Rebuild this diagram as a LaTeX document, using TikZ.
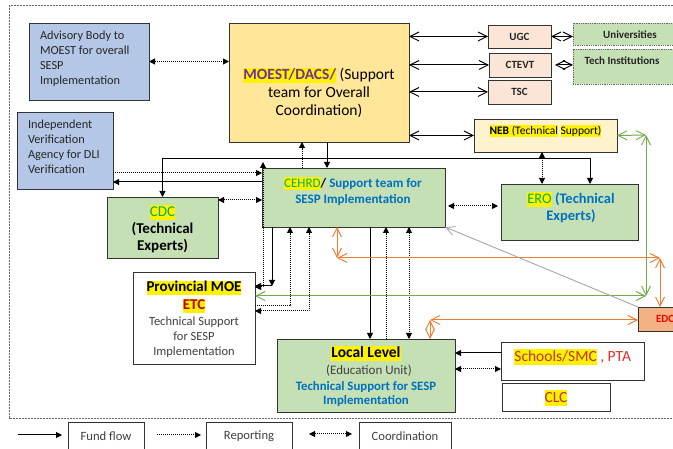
\documentclass[tikz,border=0pt]{standalone}
\usepackage{fontspec}
\setmainfont{Carlito}
\usetikzlibrary{arrows.meta}
\definecolor{advblue}{HTML}{B4C7E7}
\definecolor{moestY}{HTML}{FFE699}
\definecolor{peach}{HTML}{FBE5D6}
\definecolor{lgreen}{HTML}{C5E0B4}
\definecolor{nebY}{HTML}{FFF2CC}
\definecolor{edoO}{HTML}{F4B183}
\definecolor{purp}{HTML}{7030A0}
\definecolor{txtgreen}{HTML}{00B050}
\definecolor{txtblue}{HTML}{0070C0}
\definecolor{darkred}{HTML}{C00000}
\definecolor{schred}{HTML}{C8302A}
\definecolor{ptared}{HTML}{E0302A}
\definecolor{grn}{HTML}{70AD47}
\definecolor{org}{HTML}{ED7D31}
\definecolor{gry}{HTML}{A6A6A6}
\definecolor{txtgray}{HTML}{404040}
\newcommand\hl[1]{{\setlength{\fboxsep}{0pt}\colorbox{yellow}{\rule[-0.22em]{0pt}{0.98em}#1}}}
\tikzset{
  tipB/.tip={Triangle[length=6pt,width=6pt]},
  tipO/.tip={Straight Barb[length=9pt,width=9pt,line width=0.9pt]},
  box/.style={draw=black!80, line width=0.9pt, inner sep=0pt, outer sep=0pt},
  txt/.style={inner sep=0pt, outer sep=0pt},
  fund/.style={draw=black, line width=1pt, -tipB},
  rep/.style={draw=black, line width=1pt, dash pattern=on 1pt off 1pt, -tipB},
  crd/.style={draw=black, line width=1pt, dash pattern=on 1pt off 1pt, tipB-tipB},
  blk/.style={draw=black, line width=1pt, tipO-tipO},
  grnarr/.style={draw=grn, line width=1pt, tipO-tipO},
  orgarr/.style={draw=org, line width=1pt, tipO-tipO},
  gryarr/.style={draw=gry, line width=0.9pt, -tipO},
  frame/.style={draw=black!60, line width=0.6pt, dash pattern=on 0.6pt off 0.9pt},
}
\begin{document}
\begin{tikzpicture}[x=1pt,y=-1pt]
\useasboundingbox (0,0) rectangle (673,449);
\fill[white] (0,0) rectangle (673,449);
\clip (0,0) rectangle (673,449);
\draw[frame] (9,5) rectangle (720,418);

% ---------- boxes ----------
\node[box, fill=advblue, minimum width=120, minimum height=77] (adv) at (89,61.5) {};
\node[txt, anchor=west, align=left, text=black!85, font=\fontsize{12.3}{15}\selectfont] (advT) at (40,58.5) {Advisory Body to\\MOEST for overall\\SESP\\Implementation};

\node[box, fill=advblue, minimum width=96, minimum height=77] (iva) at (65,150.5) {};
\node[txt, anchor=west, align=left, text=black!85, font=\fontsize{12.3}{15}\selectfont] (ivaT) at (28,147) {Independent\\Verification\\Agency for DLI\\Verification};

\node[box, fill=moestY, minimum width=180, minimum height=119] (moest) at (319,82.5) {};
\node[txt, align=center, font=\fontsize{15.5}{18}\selectfont] (moestT) at (319,93) {{\bfseries\color{purp}\hl{MOEST/DACS/}} (Support\\team for Overall\\Coordination)};

\node[box, fill=peach, minimum width=63, minimum height=23, font=\fontsize{11}{13}\selectfont\bfseries, text=black!85] (ugc) at (519.5,36.5) {UGC};
\node[box, fill=peach, minimum width=62, minimum height=24, font=\fontsize{11}{13}\selectfont\bfseries, text=black!85] (ctevt) at (520,65) {CTEVT};
\node[box, fill=peach, minimum width=63, minimum height=24, font=\fontsize{11}{13}\selectfont\bfseries, text=black!85] (tsc) at (519.5,92) {TSC};

\node[box, draw=black!60, dash pattern=on 1pt off 0.8pt, fill=lgreen, minimum width=115, minimum height=22] (univ) at (630.5,34) {};
\node[txt, font=\fontsize{11}{13}\selectfont\bfseries, text=black!85] (univT) at (630,35) {Universities};
\node[box, draw=black!60, dash pattern=on 1pt off 0.8pt, fill=lgreen, minimum width=115, minimum height=35] (tech) at (630.5,66.5) {};
\node[txt, font=\fontsize{11}{13}\selectfont\bfseries, text=black!85] (techT) at (622,61) {Tech Institutions};

\node[box, fill=nebY, minimum width=143, minimum height=33] (neb) at (545.5,135.5) {};
\node[txt, font=\fontsize{11.5}{13}\selectfont] (nebT) at (545.5,131) {\hl{\textbf{NEB} (Technical} \hl{Support)}};

\node[box, fill=lgreen, minimum width=137, minimum height=56] (ero) at (569.5,212) {};
\node[txt, align=center, font=\fontsize{14.5}{17}\selectfont] (eroT) at (571,207.5) {\hl{\color{txtgreen}ERO} {\color{txtblue}\bfseries (Technical}\\{\color{txtblue}\bfseries Experts)}};

\node[box, fill=lgreen, minimum width=183, minimum height=59] (cehrd) at (353.5,197.5) {};
\node[txt, align=center, font=\fontsize{13}{16.5}\selectfont] (cehrdT) at (353,191.5) {\hl{\color{txtgreen}CEHRD}\textbf{/} {\color{txtblue}\bfseries Support team for}\\{\color{txtblue}\bfseries SESP Implementation}};

\node[box, fill=lgreen, minimum width=111, minimum height=61] (cdc) at (162.5,227.5) {};
\node[txt, align=center, font=\fontsize{15}{17}\selectfont] (cdcT) at (162.5,229) {\hl{\color{txtgreen}CDC}\\\textbf{(Technical}\\\textbf{Experts)}};

\node[box, fill=white, minimum width=122, minimum height=92] (prov) at (194,318) {};
\node[txt, anchor=base, font=\fontsize{15}{18}\selectfont\bfseries] (provA) at (194,292) {\hl{Provincial MOE}};
\node[txt, anchor=base, font=\fontsize{15}{18}\selectfont\bfseries, text=darkred] (provB) at (194,310) {\hl{ETC}};
\node[txt, anchor=base, font=\fontsize{12.5}{15}\selectfont, text=txtgray] (provC) at (194,326) {Technical Support};
\node[txt, anchor=base, font=\fontsize{12.5}{15}\selectfont, text=txtgray] (provD) at (194,341) {for SESP};
\node[txt, anchor=base, font=\fontsize{12.5}{15}\selectfont, text=txtgray] (provE) at (194,356) {Implementation};

\node[box, fill=lgreen, minimum width=178, minimum height=73] (local) at (366,375.5) {};
\node[txt, anchor=base, font=\fontsize{15.5}{18}\selectfont\bfseries] (localA) at (366,358) {\hl{Local Level}};
\node[txt, anchor=base, font=\fontsize{13}{15}\selectfont, text=txtgray] (localB) at (369,375) {(Education Unit)};
\node[txt, anchor=base, font=\fontsize{12.8}{15}\selectfont\bfseries, text=txtblue] (localC) at (366,391) {Technical Support for SESP};
\node[txt, anchor=base, font=\fontsize{12.8}{15}\selectfont\bfseries, text=txtblue] (localD) at (366,405) {Implementation};

\node[box, fill=white, minimum width=143, minimum height=38] (schools) at (572.5,361) {};
\node[txt, font=\fontsize{15.5}{18}\selectfont] (schoolsT) at (572.7,357) {\hl{\color{schred}Schools/SMC} {\color{ptared}, PTA}};
\node[box, fill=white, minimum width=108, minimum height=28] (clc) at (556,397) {};
\node[txt, font=\fontsize{15.5}{18}\selectfont, text=schred] (clcT) at (556,398) {\hl{CLC}};

\node[box, fill=edoO, minimum width=62, minimum height=24] (edo) at (669,319) {};
\node[txt, anchor=west, font=\fontsize{11}{13}\selectfont\bfseries, text=red] (edoT) at (656,319) {EDCU};

% legend
\node[box, fill=white, minimum width=76, minimum height=29, font=\fontsize{12.6}{15}\selectfont, text=txtgray] (fundbox) at (106,436.5) {Fund flow};
\node[box, fill=white, minimum width=86, minimum height=29, font=\fontsize{12.6}{15}\selectfont, text=txtgray] (repbox) at (249,436.5) {Reporting};
\node[box, fill=white, minimum width=92, minimum height=29, font=\fontsize{12.6}{15}\selectfont, text=txtgray] (crdbox) at (405,436.5) {Coordination};
\coordinate (lf) at (18,435);
\coordinate (lr) at (157,435);
\coordinate (lc) at (309,434);
\draw[fund, shorten >=6pt] (lf) -- (lf -| fundbox.west);
\draw[rep, shorten >=5pt] (lr) -- (lr -| repbox.west);
\draw[crd, shorten >=7pt] (lc) -- (lc -| crdbox.west);

% ---------- connectors ----------
\draw[crd] (adv.east) -- (adv.east -| moest.west);
\draw[blk] (moest.east |- ugc.west) -- (ugc.west);
\draw[blk] (moest.east |- ctevt.west) -- (ctevt.west);
\draw[blk] (moest.east |- tsc.west) -- (tsc.west);
\draw[blk] (moest.east |- neb.west) -- (neb.west);
\draw[blk] (ugc.east) -- (ugc.east -| univ.west);
\draw[blk, shorten <=4pt] (ctevt.east) -- (ctevt.east -| tech.west);

% fund flow from MOEST
\coordinate (split) at (327,159);
\draw[fund] (moest.south -| split) -- (cehrd.north -| split);
\draw[fund] (split) -| (cdc.north);
\draw[fund] (split) -| (590,0 |- ero.north);
\draw[rep] (302,0 |- cehrd.north) -- (302,0 |- moest.south);

% IVA, CDC
\draw[rep] (iva.east |- 0,173) -- (cehrd.west |- 0,173);
\draw[fund] (cehrd.west |- 0,182) -- (iva.east |- 0,182);
\draw[crd] (cdc.east |- 0,200) -- (cehrd.west |- 0,200);

% CEHRD - Provincial
\coordinate (pc) at (272,286);
\coordinate (ctl) at (263,162);
\draw[fund] (cehrd.south -| pc) -- (pc);
\draw[fund] (pc) -- (pc -| prov.east);
\draw[crd] (prov.east |- 0,287) -| (ctl);
\draw[rep] (prov.east |- 0,306) -| (290,0 |- cehrd.south);
\draw[crd] (prov.east |- 0,311) -| (309,0 |- cehrd.south);

% CEHRD - Local
\draw[fund] (370,0 |- cehrd.south) -- (370,0 |- local.north);
\draw[rep] (386,0 |- local.north) -- (386,0 |- cehrd.south);
\draw[crd] (409,0 |- cehrd.south) -- (409,0 |- local.north);

% NEB/ERO
\draw[crd] (542,0 |- neb.south) -- (542,0 |- ero.north);
\draw[crd, shorten <=3pt, shorten >=3pt] (cehrd.east |- 0,206) -- (ero.west |- 0,206);

% Schools
\draw[fund] (schools.west |- 0,353) -- (local.east |- 0,353);
\draw[crd] (local.east |- 0,369) -- (schools.west |- 0,369);

% orange
\coordinate (o1) at (337,258);
\coordinate (o2) at (660,258);
\coordinate (o3) at (430,320);
\draw[orgarr] (cehrd.south -| o1) -- (o1);
\draw[orgarr] (o1) -- (o2);
\draw[orgarr] (o2) -- (edo.north -| o2);
\draw[orgarr] (local.north -| o3) -- (o3);
\draw[orgarr] (o3) -- (o3 -| edo.west);

% green
\coordinate (g1) at (646,135);
\coordinate (g2) at (646,296);
\draw[grnarr] (neb.east) -- (g1);
\draw[grnarr] (g1) -- (g2);
\draw[grnarr] (g2) -- (g2 -| prov.east);

% gray
\draw[gryarr] (edo.north west) -- (cehrd.south east);
\end{tikzpicture}
\end{document}
